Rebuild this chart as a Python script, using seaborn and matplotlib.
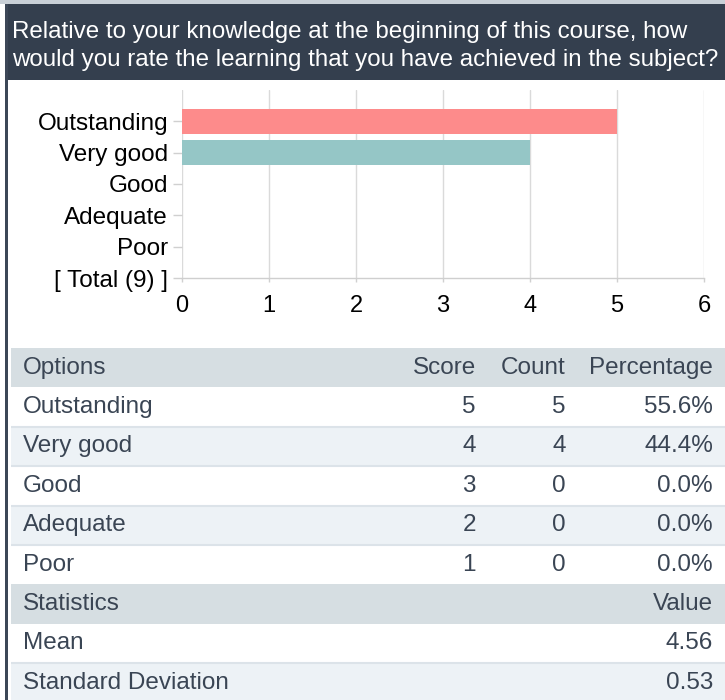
import numpy as np
import pandas as pd
import matplotlib
matplotlib.use("Agg")
import matplotlib.pyplot as plt
from matplotlib.patches import Rectangle
import seaborn as sns

# ---- survey data -------------------------------------------------------
question = ["Relative to your knowledge at the beginning of this course, how",
            "would you rate the learning that you have achieved in the subject?"]
options = ["Outstanding", "Very good", "Good", "Adequate", "Poor"]
scores = [5, 4, 3, 2, 1]
counts = [5, 4, 0, 0, 0]
bar_colors = ["#fd8b8b", "#95c6c6", "#c8c8c8", "#c8c8c8", "#c8c8c8"]
x_ticks = [0, 1, 2, 3, 4, 5, 6]
table_header = ["Options", "Score", "Count", "Percentage"]
stats_header = ["Statistics", "Value"]

total = sum(counts)
percentages = [100.0 * c / total for c in counts]
responses = np.repeat(scores, counts)
mean = responses.mean()
sd = responses.std(ddof=1)

sns.set_theme(style="white")
plt.rcParams["font.family"] = ["Liberation Sans", "DejaVu Sans"]

W, H = 725, 700
fig = plt.figure(figsize=(W / 100, H / 100), dpi=100)
fig.patch.set_facecolor("white")

# ---- page layer in pixel coordinates ------------------------------------
bg = fig.add_axes([0, 0, 1, 1])
bg.set_xlim(0, W)
bg.set_ylim(H, 0)
bg.axis("off")

bg.add_patch(Rectangle((0, 0), W, 4, color="#c9d0d7", lw=0))
bg.add_patch(Rectangle((5, 4), W - 5, 76, color="#343f4e", lw=0))
bg.add_patch(Rectangle((5, 4), 3, H - 4, color="#3c4757", lw=0))

for i, line in enumerate(question):
    bg.text(12, 32 + 28 * i, line, color="white", fontsize=17.4,
            va="center", ha="left")

# ---- results table ------------------------------------------------------
TXT = "#3a4554"
HEAD_BG = "#d6dee2"
ALT_BG = "#edf2f6"
SEP = "#dce3e9"
x_left, x_score, x_count, x_pct = 23, 476, 566, 713
row_top = 348.0
row_h = 39.4
fs = 17.5

rows = [("header", table_header)]
for o, s, c, p in zip(options, scores, counts, percentages):
    rows.append(("data", [o, str(s), str(c), f"{p:.1f}%"]))
rows.append(("header", [stats_header[0], "", "", stats_header[1]]))
rows.append(("data", ["Mean", "", "", f"{mean:.2f}"]))
rows.append(("data", ["Standard Deviation", "", "", f"{sd:.2f}"]))

stripe = 0
for kind, cells in rows:
    y0 = row_top
    if kind == "header":
        color = HEAD_BG
        stripe = 0
    else:
        color = "white" if stripe % 2 == 0 else ALT_BG
        stripe += 1
    bg.add_patch(Rectangle((11, y0), W - 11, row_h, color=color, lw=0))
    if kind == "data" and color == ALT_BG:
        bg.plot([11, W], [y0, y0], color=SEP, lw=1.5, solid_capstyle="butt")
        bg.plot([11, W], [y0 + row_h, y0 + row_h], color=SEP, lw=1.5,
                solid_capstyle="butt")
    yc = y0 + row_h / 2
    bg.text(x_left, yc, cells[0], color=TXT, fontsize=fs, va="center", ha="left")
    for xr, t in zip((x_score, x_count, x_pct), cells[1:]):
        if t:
            bg.text(xr, yc, t, color=TXT, fontsize=fs, va="center", ha="right")
    row_top += row_h

# ---- bar chart ----------------------------------------------------------
ax = fig.add_axes([182 / W, 1 - 278 / H, 522 / W, 188 / H])
df = pd.DataFrame({"option": options, "count": counts})
sns.barplot(data=df, x="count", y="option", hue="option", order=options,
            hue_order=options, palette=bar_colors, legend=False,
            width=0.78, saturation=1, errorbar=None, linewidth=0, ax=ax)

ax.set_xlim(0, 6)
ax.set_ylim(5, -1)
ax.set_yticks(range(len(options) + 1))
ax.set_yticklabels(options + [f"[ Total ({total}) ]"])
ax.set_xticks(x_ticks)
ax.set_xticklabels([str(t) for t in x_ticks])
ax.set_xlabel("")
ax.set_ylabel("")
ax.set_facecolor("white")
ax.set_axisbelow(True)
ax.xaxis.grid(True, color="#dadada", lw=1)
ax.yaxis.grid(False)
for side in ("top", "right", "left"):
    ax.spines[side].set_visible(False)
ax.spines["bottom"].set_color("#cfcfcf")
ax.spines["bottom"].set_linewidth(1)
ax.tick_params(axis="y", which="major", left=True, length=6.5, width=1,
               color="#d0d0d0", pad=3.5, labelsize=17.5, labelcolor="black")
ax.tick_params(axis="x", which="major", bottom=True, length=3, width=1,
               color="#d0d0d0", pad=9.5, labelsize=17, labelcolor="black")

fig.savefig("out.png", dpi=100)
